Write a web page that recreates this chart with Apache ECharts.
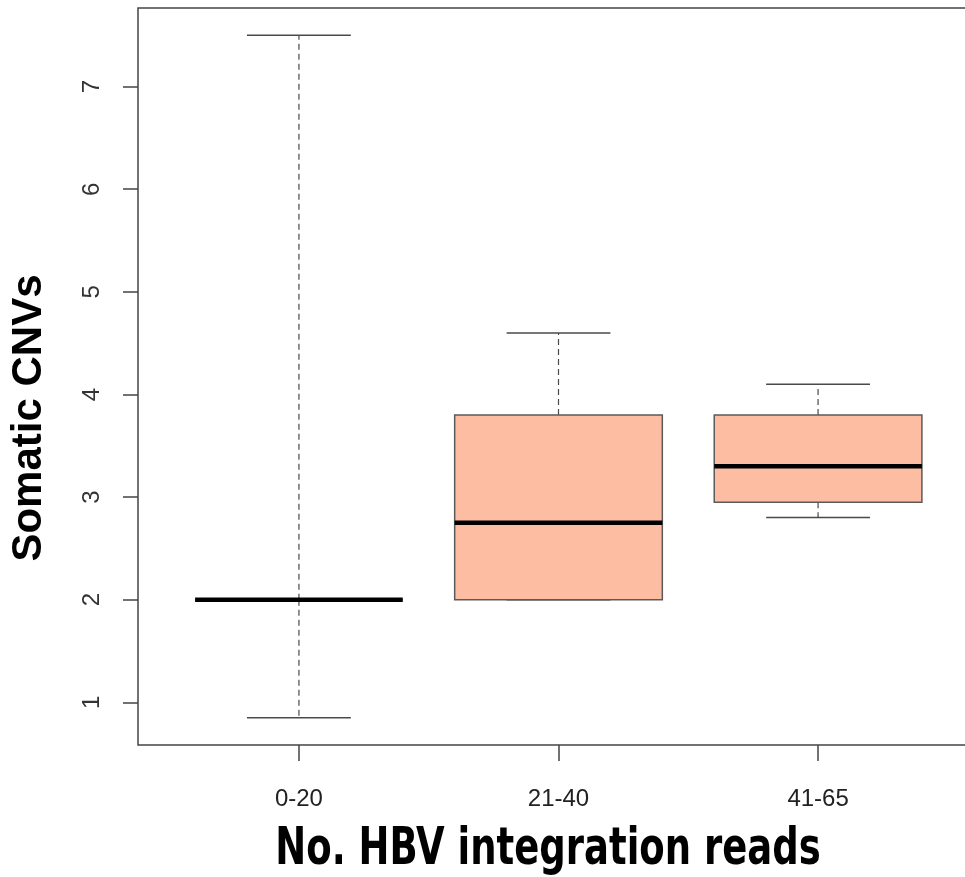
<!DOCTYPE html>
<html>
<head>
<meta charset="utf-8">
<style>
html,body{margin:0;padding:0;background:#fff;}
#chart{width:965px;height:877px;}
</style>
<script src="https://cdn.jsdelivr.net/npm/echarts@6/dist/echarts.min.js"></script>
</head>
<body>
<div id="chart"></div>
<script>
// Data
var categories = ['0-20', '21-40', '41-65'];
var positions = [1, 2, 3];
var whiskerLow = [0.85, 2.0, 2.8];
var q1 = [2.0, 2.0, 2.95];
var median = [2.0, 2.75, 3.3];
var q3 = [2.0, 3.8, 3.8];
var whiskerHigh = [7.5, 4.6, 4.1];
var yTicks = [1, 2, 3, 4, 5, 6, 7];

var boxData = positions.map(function (p, i) {
  return [p, whiskerLow[i], q1[i], median[i], q3[i], whiskerHigh[i]];
});

var chart = echarts.init(document.getElementById('chart'), null, {renderer: 'canvas'});

var BOX_HALF = 0.4, CAP_HALF = 0.2;

function renderItem(params, api) {
  var x = api.value(0);
  var lo = api.value(1), a = api.value(2), m = api.value(3), b = api.value(4), hi = api.value(5);
  var pL = api.coord([x - BOX_HALF, b]);
  var pR = api.coord([x + BOX_HALF, a]);
  var cx = api.coord([x, 0])[0];
  var cL = api.coord([x - CAP_HALF, 0])[0];
  var cR = api.coord([x + CAP_HALF, 0])[0];
  var yLo = api.coord([x, lo])[1], yA = api.coord([x, a])[1], yM = api.coord([x, m])[1];
  var yB = api.coord([x, b])[1], yHi = api.coord([x, hi])[1];
  var grey = '#4a4a4a';
  var dash = {stroke: grey, lineWidth: 1.2, lineDash: [6, 4]};
  var solid = {stroke: grey, lineWidth: 1.5};
  return {
    type: 'group',
    children: [
      {type: 'line', shape: {x1: cx, y1: yB, x2: cx, y2: yHi}, style: dash},
      {type: 'line', shape: {x1: cx, y1: yA, x2: cx, y2: yLo}, style: dash},
      {type: 'line', shape: {x1: cL, y1: yHi, x2: cR, y2: yHi}, style: solid},
      {type: 'line', shape: {x1: cL, y1: yLo, x2: cR, y2: yLo}, style: solid},
      {type: 'rect', shape: {x: pL[0], y: pL[1], width: pR[0] - pL[0], height: pR[1] - pL[1]},
        style: {fill: '#FDBDA3', stroke: '#5a5a5a', lineWidth: 1.5}},
      {type: 'line', shape: {x1: pL[0], y1: yM, x2: pR[0], y2: yM},
        style: {stroke: '#000', lineWidth: 4.5}}
    ]
  };
}

var option = {
  backgroundColor: '#fff',
  animation: false,
  grid: {
    left: 138, top: 8, width: 841, height: 737,
    outerBoundsMode: 'none', containLabel: false,
    show: true, borderColor: '#444', borderWidth: 1.5, backgroundColor: 'transparent'
  },
  xAxis: {
    type: 'value', min: 0.38, max: 3.62,
    splitLine: {show: false},
    axisLine: {show: false},
    axisTick: {show: true, length: 16, customValues: positions, lineStyle: {color: '#444', width: 1.5}},
    axisLabel: {
      customValues: positions, margin: 42, fontSize: 24,
      fontFamily: 'Liberation Sans, Arial, sans-serif', color: '#222',
      formatter: function (v) { var i = positions.indexOf(Math.round(v)); return i >= 0 ? categories[i] : ''; }
    }
  },
  yAxis: {
    type: 'value', min: 0.584, max: 7.766,
    splitLine: {show: false},
    axisLine: {show: false},
    axisTick: {show: true, length: 15, customValues: yTicks, lineStyle: {color: '#444', width: 1.5}},
    axisLabel: {
      customValues: yTicks, rotate: 90, margin: 34, fontSize: 24,
      fontFamily: 'Liberation Sans, Arial, sans-serif', color: '#333',
      formatter: function (v) { return String(Math.round(v)); }
    }
  },
  series: [{
    type: 'custom',
    renderItem: renderItem,
    data: boxData,
    encode: {x: 0, y: [1, 2, 3, 4, 5]},
    clip: false
  }],
  graphic: [
    {
      type: 'text', x: 548, y: 851, scaleX: 0.806,
      style: {
        text: 'No. HBV integration reads',
        font: 'bold 51px "DejaVu Sans Condensed", "DejaVu Sans", sans-serif',
        fill: '#000', textAlign: 'center', textVerticalAlign: 'middle'
      }
    },
    {
      type: 'text', x: 29, y: 418, rotation: Math.PI / 2,
      style: {
        text: 'Somatic CNVs',
        font: 'bold 42px "Liberation Sans", Arial, sans-serif',
        fill: '#000', textAlign: 'center', textVerticalAlign: 'middle'
      }
    }
  ]
};
chart.setOption(option);
</script>
</body>
</html>
